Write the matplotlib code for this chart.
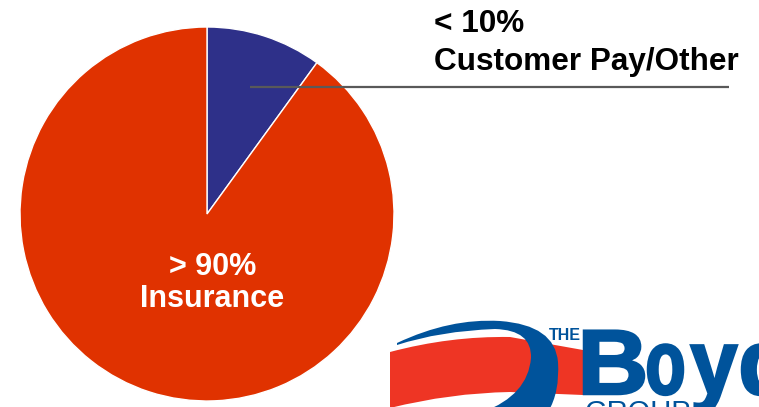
import numpy as np
import matplotlib.pyplot as plt
from matplotlib.path import Path
from matplotlib.patches import PathPatch
from matplotlib.textpath import TextPath
from matplotlib.font_manager import FontProperties
import matplotlib.transforms as mtrans

# data
labels = ['Customer Pay/Other', 'Insurance']
shares = [10, 90]
share_text = ['< 10%', '> 90%']
colors = ['#2E3089', '#E03200']

logo_blue = '#00539B'
logo_red = '#EE3524'

fig = plt.figure(figsize=(7.59, 4.07), dpi=100)
ax = fig.add_axes([0, 0, 1, 1])

# pixel-style coords, y pointing down -> counterclock in data is clockwise on screen
ax.pie(shares, colors=colors, startangle=-90, center=(207, 214), radius=187,
       wedgeprops=dict(edgecolor='white', linewidth=1))
ax.set_xlim(0, 759)
ax.set_ylim(407, 0)
ax.set_aspect('equal')
ax.axis('off')

bold = dict(family=['Liberation Sans', 'DejaVu Sans'], fontweight='bold')
ax.text(434, 32, share_text[0], fontsize=22.7, color='black', va='baseline', ha='left', **bold)
ax.text(434, 70, labels[0], fontsize=22.7, color='black', va='baseline', ha='left', **bold)
ax.plot([250, 729], [87, 87], color='#595959', lw=1.6, solid_capstyle='butt')

ax.text(213, 275, share_text[1], fontsize=22, color='white', va='baseline', ha='center', **bold)
ax.text(212, 307, labels[1], fontsize=22, color='white', va='baseline', ha='center', **bold)

# logo in the corner (decoration)
red_v = [(390, 352), (450, 336), (510, 337), (583, 350), (583, 395),
         (510, 392), (450, 393), (390, 408), (390, 352)]
red_c = [Path.MOVETO, Path.CURVE3, Path.CURVE3, Path.LINETO, Path.LINETO,
         Path.LINETO, Path.CURVE3, Path.CURVE3, Path.CLOSEPOLY]
ax.add_patch(PathPatch(Path(red_v, red_c), facecolor=logo_red, edgecolor='none'))

blue_v = [(397, 343), (450, 318), (500, 321), (555, 325), (558, 362),
          (560, 392), (548, 412), (483, 412), (528, 395), (531, 358),
          (532, 330), (495, 329), (440, 331), (397, 345), (397, 343)]
blue_c = [Path.MOVETO, Path.CURVE3, Path.CURVE3, Path.CURVE3, Path.CURVE3,
          Path.CURVE3, Path.CURVE3, Path.LINETO, Path.CURVE3, Path.CURVE3,
          Path.CURVE3, Path.CURVE3, Path.CURVE3, Path.CURVE3, Path.CLOSEPOLY]
ax.add_patch(PathPatch(Path(blue_v, blue_c), facecolor=logo_blue, edgecolor='none'))

ax.text(549, 340, 'THE', fontsize=11.5, color=logo_blue, va='baseline', ha='left', **bold)

fp = FontProperties(family='Liberation Sans', weight='bold')
def glyph(ch, x0, x1, base, em):
    tp = TextPath((0, 0), ch, size=1, prop=fp)
    ext = tp.get_extents()
    sx = (x1 - x0) / ext.width
    tr = mtrans.Affine2D().translate(-ext.x0, 0).scale(sx, -em).translate(x0, base)
    ax.add_patch(PathPatch(tr.transform_path(tp), facecolor=logo_blue,
                           edgecolor=logo_blue, lw=1.8))

glyph('B', 584, 644, 394, 92)
glyph('o', 648, 683, 394, 92)
glyph('y', 691, 737, 394, 92)
glyph('d', 742, 790, 394, 92)

ax.text(584, 421, 'GROUP', fontsize=21, color=logo_blue, va='baseline', ha='left',
        family=['Liberation Sans', 'DejaVu Sans'])

fig.savefig('out.png', dpi=100)
